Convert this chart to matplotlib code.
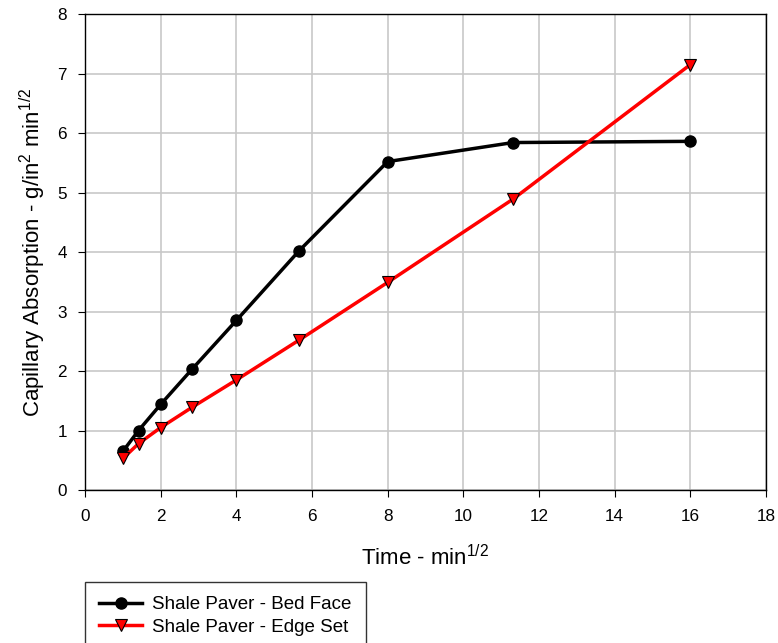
import matplotlib
matplotlib.use("Agg")
import matplotlib.pyplot as plt

plt.rcParams['font.family'] = ['Liberation Sans', 'DejaVu Sans']
plt.rcParams['mathtext.fontset'] = 'custom'
plt.rcParams['mathtext.rm'] = 'Liberation Sans'
plt.rcParams['mathtext.it'] = 'Liberation Sans'

time_x = [1.0, 1.414, 2.0, 2.828, 4.0, 5.657, 8.0, 11.314, 16.0]
bed_face = [0.65, 1.00, 1.44, 2.03, 2.85, 4.02, 5.52, 5.84, 5.86]
edge_set = [0.53, 0.78, 1.05, 1.39, 1.85, 2.52, 3.49, 4.89, 7.15]
labels = ["Shale Paver - Bed Face", "Shale Paver - Edge Set"]

fig = plt.figure(figsize=(7.78, 6.43), dpi=100)
ax = fig.add_axes([0.1093, 0.2379, 0.8753, 0.7403])

ax.plot(time_x, bed_face, color='black', lw=2.5, marker='o', ms=8,
        mfc='black', mec='black', label=labels[0], zorder=3)
ax.plot(time_x, edge_set, color='#ff0000', lw=2.5, marker='v', ms=9,
        mfc='#ff0000', mec='black', mew=0.8, label=labels[1], zorder=3)

ax.set_xlim(0, 18)
ax.set_ylim(0, 8)
ax.set_xticks(range(0, 19, 2))
ax.set_yticks(range(0, 9))
ax.grid(True, color='#c8c8c8', lw=1.2)
ax.set_axisbelow(True)
for s in ax.spines.values():
    s.set_color('black')
    s.set_linewidth(1.0)
ax.tick_params(direction='out', length=5, labelsize=12.3, colors='black')
ax.tick_params(axis='x', pad=9)
ax.tick_params(axis='y', pad=8)

ax.set_xlabel(r"Time - min$^{\mathrm{1/2}}$", fontsize=16, labelpad=15)
ax.set_ylabel(r"Capillary Absorption - g/in$^{\mathrm{2}}$ min$^{\mathrm{1/2}}$", fontsize=16, labelpad=7)

leg = fig.legend(loc='upper left', bbox_to_anchor=(85/778, 1 - 582/643),
                 fontsize=13.5, frameon=True, fancybox=False, handlelength=2.3,
                 handletextpad=0.55, borderpad=0.75, labelspacing=0.3,
                 borderaxespad=0)
leg.get_frame().set_edgecolor('black')
leg.get_frame().set_linewidth(1.0)

fig.savefig("out.png", dpi=100)
